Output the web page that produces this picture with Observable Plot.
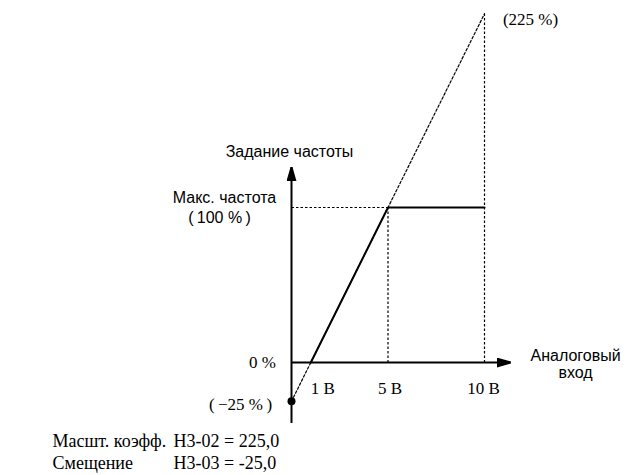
<!DOCTYPE html>
<html><head><meta charset="utf-8">
<script src="https://cdn.jsdelivr.net/npm/d3@7"></script>
<script src="https://cdn.jsdelivr.net/npm/@observablehq/plot@0.6"></script>
<style>body{margin:0;background:#fff}</style>
</head><body><div id="chart"></div>
<script>
// Output characteristic (solid)
const outputVolts = [1, 5, 10];
const outputPercent = [0, 100, 100];
// Gain / bias line (dotted)
const gainVolts = [0, 10];
const gainPercent = [-25, 225];
// Reference values
const maxPercent = 100;
const biasPercent = -25;
const topPercent = 225;
const kneeVolts = 5;
const maxVolts = 10;
// Axis extents (data units)
const axisXEnd = 11.35;
const axisYMin = -39;
const axisYMax = 126;
// Tick labels
const tickVolts = [1, 5, 10];
const tickLabels = ["1 В", "5 В", "10 В"];
// Text
const yTitle = "Задание частоты";
const xTitle = "Аналоговый\nвход";
const maxLabel = "Макс. частота";
const maxPctLabel = "(\u2009100 %\u2009)";
const zeroLabel = "0 %";
const biasLabel = "(\u2009−25 %\u2009)";
const topLabel = "(225 %)";
const captionNames = "Масшт. коэфф.\nСмещение";
const captionValues = "Н3-02 = 225,0\nН3-03 = -25,0";

const outputLine = outputVolts.map((v, i) => ({v, p: outputPercent[i]}));
const gainLine = gainVolts.map((v, i) => ({v, p: gainPercent[i]}));
const tickShift = [12, 2, -1]; // label offsets in px
const ticks = tickVolts.map((v, i) => ({v, p: 0, label: tickLabels[i]}));

const filledArrow = (color) => d3.create("svg:marker")
  .attr("viewBox", "-14 -5 14 10")
  .attr("markerWidth", 14).attr("markerHeight", 10)
  .attr("markerUnits", "userSpaceOnUse")
  .attr("orient", "auto")
  .attr("refX", 0).attr("refY", 0)
  .call(m => m.append("path").attr("d", "M-14,-4L0,0L-14,4Z").attr("fill", color))
  .node();

const SANS = "'Liberation Sans', Arial, sans-serif";
const SERIF = "'Liberation Serif', 'Times New Roman', serif";
const dash = {stroke: "#000", strokeWidth: 1.2, strokeDasharray: "2.5,2"};

const chart = Plot.plot({
  width: 636, height: 475,
  marginLeft: 0, marginRight: 0, marginTop: 0, marginBottom: 0,
  x: {domain: [0, maxVolts], range: [291, 484], axis: null},
  y: {domain: [0, maxPercent], range: [362, 207], axis: null},
  style: {background: "#fff"},
  marks: [
    // dotted helpers
    Plot.line(gainLine, {x: "v", y: "p", ...dash}),
    Plot.link([0], {x1: () => maxVolts, x2: () => maxVolts, y1: () => 0, y2: () => topPercent, ...dash}),
    Plot.link([0], {x1: () => kneeVolts, x2: () => kneeVolts, y1: () => 0, y2: () => maxPercent, ...dash}),
    Plot.link([0], {x1: () => 0, x2: () => kneeVolts, y1: () => maxPercent, y2: () => maxPercent, ...dash}),
    // axes
    Plot.link([0], {x1: () => 0, x2: () => axisXEnd, y1: () => 0, y2: () => 0, stroke: "#000", strokeWidth: 2, markerEnd: filledArrow}),
    Plot.link([0], {x1: () => 0, x2: () => 0, y1: () => axisYMin, y2: () => axisYMax, stroke: "#000", strokeWidth: 2, markerEnd: filledArrow}),
    // output characteristic
    Plot.line(outputLine, {x: "v", y: "p", stroke: "#000", strokeWidth: 2, strokeLinejoin: "miter"}),
    Plot.dot([0], {x: () => 0, y: () => biasPercent, r: 4, fill: "#000"}),
    // tick labels
    ticks.map((t, i) => Plot.text([t], {x: "v", y: "p", text: "label", dx: tickShift[i], dy: 26, fontFamily: SERIF, fontSize: 17, fill: "#000"})),
    // labels
    Plot.text([yTitle], {x: () => 0, y: () => axisYMax, text: d => d, dx: -2, dy: -15, fontFamily: SANS, fontSize: 16, fill: "#000"}),
    Plot.text([xTitle], {x: () => axisXEnd, y: () => 0, text: d => d, dx: 65, dy: 2, fontFamily: SANS, fontSize: 16, lineHeight: 1.06, fill: "#000"}),
    Plot.text([maxLabel], {x: () => 0, y: () => maxPercent, text: d => d, dx: -67, dy: -10, fontFamily: SANS, fontSize: 16, fill: "#000"}),
    Plot.text([maxPctLabel], {x: () => 0, y: () => maxPercent, text: d => d, dx: -72, dy: 10, fontFamily: SANS, fontSize: 16, fill: "#000"}),
    Plot.text([zeroLabel], {x: () => 0, y: () => 0, text: d => d, dx: -29, dy: 0, fontFamily: SERIF, fontSize: 17, fill: "#000"}),
    Plot.text([biasLabel], {x: () => 0, y: () => biasPercent, text: d => d, dx: -51, dy: 3, fontFamily: SERIF, fontSize: 17, fill: "#000"}),
    Plot.text([topLabel], {x: () => maxVolts, y: () => topPercent, text: d => d, dx: 46, dy: 6, fontFamily: SERIF, fontSize: 17, fill: "#000"}),
    Plot.text([captionNames], {frameAnchor: "bottom-left", text: d => d, dx: 52, dy: -44, lineAnchor: "top", textAnchor: "start", lineHeight: 1.22, fontFamily: SERIF, fontSize: 18, fill: "#000"}),
    Plot.text([captionValues], {frameAnchor: "bottom-left", text: d => d, dx: 173, dy: -44, lineAnchor: "top", textAnchor: "start", lineHeight: 1.22, fontFamily: SERIF, fontSize: 18, fill: "#000"})
  ]
});
document.getElementById("chart").append(chart);
</script></body></html>
